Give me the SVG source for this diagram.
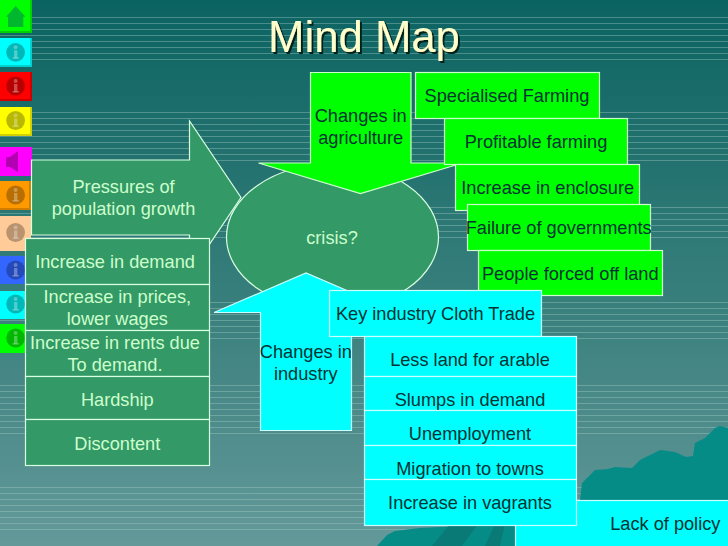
<svg xmlns="http://www.w3.org/2000/svg" width="728" height="546" viewBox="0 0 728 546">
<style>
text{font-family:"Liberation Sans",Arial,sans-serif;font-size:18.2px;text-anchor:middle}
.lt{fill:#ccffcc}.dk{fill:#003333}
.sea{fill:#339966;stroke:#d8ffe0;stroke-width:1.2}
.grn{fill:#00ff00;stroke:#ccffcc;stroke-width:1.2}
.cyn{fill:#00ffff;stroke:#ccffff;stroke-width:1.2}
.rule{stroke:#a8cfc8;stroke-opacity:.38;stroke-width:1;fill:none}
.shade{fill:#000;fill-opacity:.18}
</style>
<defs>
<linearGradient id="bg" x1="0" y1="0" x2="0" y2="1">
<stop offset="0" stop-color="#0b6361"/>
<stop offset=".55" stop-color="#387f7c"/>
<stop offset="1" stop-color="#64999a"/>
</linearGradient>
<g id="info">
<circle cx="15.6" cy="0" r="9.4" fill="#000" fill-opacity=".28"/>
<circle cx="15.6" cy="-5" r="2" fill="#fff" fill-opacity=".3"/>
<rect x="14" y="-2" width="3.4" height="7.5" fill="#fff" fill-opacity=".3"/>
<rect x="12.6" y="5" width="6.2" height="1.6" fill="#fff" fill-opacity=".3"/>
</g>
<filter id="ts" x="-5%" y="-5%" width="110%" height="115%">
<feDropShadow dx="2" dy="2" stdDeviation="0" flood-color="#00201c" flood-opacity="1"/>
</filter>
</defs>

<rect width="728" height="546" fill="url(#bg)"/>
<path class="rule" d="M0 17.5H728M0 23.5H728M0 29.5H728M0 35.5H728M0 41.5H728M0 47.5H728M0 53.5H728M0 59.5H728
M0 112.5H728M0 118.5H728M0 124.5H728M0 130.5H728M0 136.5H728M0 142.5H728M0 148.5H728M0 154.5H728M0 160.5H728
M0 207.5H728M0 213.5H728M0 219.5H728M0 225.5H728M0 231.5H728M0 237.5H728
M0 302.5H728M0 308.5H728M0 314.5H728M0 320.5H728M0 326.5H728M0 332.5H728M0 338.5H728
M0 385.5H728M0 391.5H728M0 397.5H728M0 403.5H728M0 409.5H728M0 415.5H728M0 421.5H728M0 427.5H728M0 433.5H728
M0 487.5H728M0 493.5H728M0 499.5H728M0 505.5H728M0 511.5H728M0 517.5H728M0 523.5H728M0 529.5H728"/>

<g id="mountains">
<path fill="#058c87" d="M377 546L387 535L395 531L420 528L580 520L580 500L582 483L595 470L608 469L615 467L632 468L640 460L660 450L675 452L686 457L693 456L695 443L705 438L715 428L720 426L728 428V546Z"/>
<path fill="#0a7a76" d="M432 546L450 524H478L462 546ZM485 546L495 524H505L500 546Z"/>
</g>

<g id="nav-buttons">
<g id="btn-home"><rect x="0" y="0" width="32" height="33" fill="#00ff00"/><path class="shade" d="M30 0H32V33H0V31H30Z"/>
<polygon points="15.7,6 25.5,16.7 23.3,16.7 23.3,27 8,27 8,16.7 6,16.7" fill="#00b82e"/></g>
<g id="btn-info-1"><rect x="0" y="38" width="32" height="29" fill="#00ffff"/><path class="shade" d="M30 38H32V67H0V65H30Z"/><use href="#info" y="52.3"/></g>
<g id="btn-info-2"><rect x="0" y="72" width="32" height="29" fill="#ff0000"/><path class="shade" d="M30 72H32V101H0V99H30Z"/><use href="#info" y="86"/></g>
<g id="btn-info-3"><rect x="0" y="107" width="32" height="29" fill="#ffff00"/><path class="shade" d="M30 107H32V136H0V134H30Z"/><use href="#info" y="120.5"/></g>
<g id="btn-sound"><rect x="0" y="147" width="32" height="29" fill="#ff00ff"/>
<polygon points="6,157 10,157 18,151 18,172 10,167 6,167" fill="#000" fill-opacity=".3"/></g>
<g id="btn-info-4"><rect x="0" y="181" width="31" height="29" fill="#ff9900"/><path class="shade" d="M29 181H31V210H0V208H29Z"/><use href="#info" y="195"/></g>
<g id="btn-info-5"><rect x="0" y="216" width="31" height="35" fill="#ffcc99"/><use href="#info" y="232.5"/></g>
<g id="btn-info-6"><rect x="0" y="256" width="31" height="28" fill="#3366ff"/><use href="#info" y="270"/></g>
<g id="btn-info-7"><rect x="0" y="291" width="31" height="28" fill="#00ffff"/><use href="#info" y="304"/></g>
<g id="btn-info-8"><rect x="0" y="324" width="31" height="29" fill="#00ff00"/><use href="#info" y="338"/></g>
</g>

<g id="connectors"></g>

<g id="title"><text x="364" y="52" filter="url(#ts)" style="font-size:43.7px" fill="#ffffcc">Mind Map</text></g>

<g id="pressures">
<polygon class="sea" points="31.5,160 189.5,160 189.5,121 241,197.5 189.5,274 189.5,235 31.5,235"/>
<text class="lt" x="123.5" y="193">Pressures of</text>
<text class="lt" x="123.5" y="215">population growth</text>
</g>
<g id="crisis">
<ellipse class="sea" cx="332.5" cy="237" rx="106" ry="73"/>
<text class="lt" x="332" y="244">crisis?</text>
</g>

<g id="agri">
<polygon class="grn" points="310.5,72.5 411,72.5 411,163 462.5,163 360.5,193.5 258.5,163 310.5,163"/>
<text class="dk" x="360.7" y="122">Changes in</text>
<text class="dk" x="360.7" y="144">agriculture</text>
</g>
<g id="ag1"><rect class="grn" x="415.5" y="72.5" width="184" height="46"/><text class="dk" x="507" y="102">Specialised Farming</text></g>
<g id="ag2"><rect class="grn" x="444.5" y="118.5" width="183" height="46"/><text class="dk" x="536" y="148">Profitable farming</text></g>
<g id="ag3"><rect class="grn" x="455.5" y="164.5" width="184" height="46"/><text class="dk" x="547.7" y="194">Increase in enclosure</text></g>
<g id="ag4"><rect class="grn" x="467.5" y="204.5" width="183" height="46"/><text class="dk" x="558.7" y="234">Failure of governments</text></g>
<g id="ag5"><rect class="grn" x="478.5" y="250.5" width="184" height="45"/><text class="dk" x="570.3" y="280">People forced off land</text></g>

<g id="policy"><rect class="cyn" x="515.5" y="500.5" width="220" height="60"/><text class="dk" x="665.3" y="530">Lack of policy</text></g>
<g id="industry">
<polygon class="cyn" points="260.5,430.5 260.5,312.5 214,312.5 306,273 398,312.5 351.5,312.5 351.5,430.5"/>
<text class="dk" x="305.8" y="358">Changes in</text>
<text class="dk" x="305.8" y="379.5">industry</text>
</g>
<g id="ind0"><rect class="cyn" x="329.5" y="290.5" width="212" height="46"/><text class="dk" x="435.5" y="320">Key industry Cloth Trade</text></g>
<g id="ind1"><rect class="cyn" x="364.5" y="336.5" width="212" height="40"/><text class="dk" x="470" y="366">Less land for arable</text></g>
<g id="ind2"><rect class="cyn" x="364.5" y="376.5" width="212" height="34"/><text class="dk" x="470" y="406">Slumps in demand</text></g>
<g id="ind3"><rect class="cyn" x="364.5" y="410.5" width="212" height="35"/><text class="dk" x="470" y="440">Unemployment</text></g>
<g id="ind4"><rect class="cyn" x="364.5" y="445.5" width="212" height="34"/><text class="dk" x="470" y="475">Migration to towns</text></g>
<g id="ind5"><rect class="cyn" x="364.5" y="479.5" width="212" height="46"/><text class="dk" x="470" y="509">Increase in vagrants</text></g>

<g id="left1"><rect class="sea" x="25.5" y="238.5" width="184" height="46"/><text class="lt" x="115" y="268">Increase in demand</text></g>
<g id="left2"><rect class="sea" x="25.5" y="284.5" width="184" height="46"/><text class="lt" x="117.3" y="303">Increase in prices,</text><text class="lt" x="117.3" y="325">lower wages</text></g>
<g id="left3"><rect class="sea" x="25.5" y="330.5" width="184" height="46"/><text class="lt" x="115" y="349">Increase in rents due</text><text class="lt" x="115" y="371">To demand.</text></g>
<g id="left4"><rect class="sea" x="25.5" y="376.5" width="184" height="43"/><text class="lt" x="117.3" y="406">Hardship</text></g>
<g id="left5"><rect class="sea" x="25.5" y="419.5" width="184" height="46"/><text class="lt" x="117.3" y="450">Discontent</text></g>
</svg>
